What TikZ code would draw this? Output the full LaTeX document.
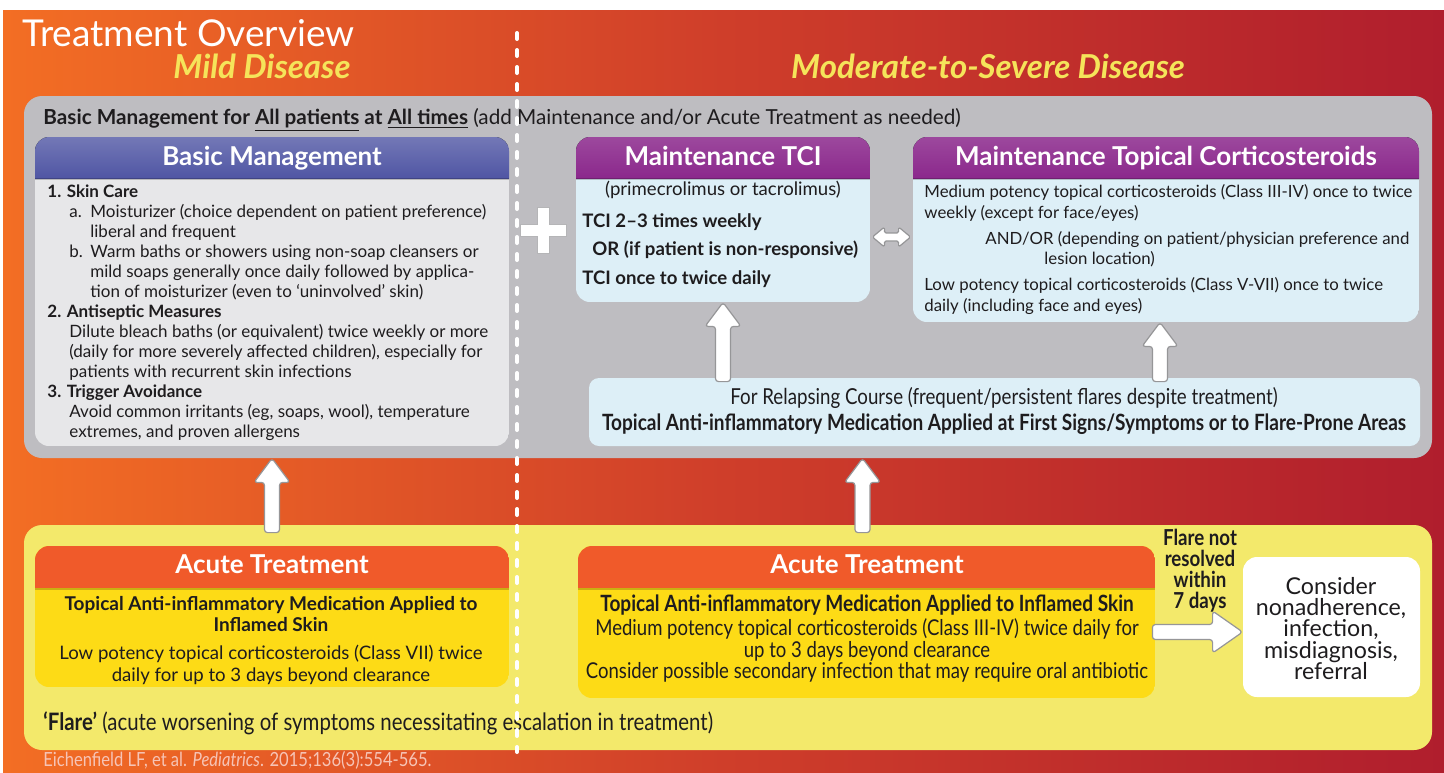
\documentclass[tikz,border=0pt]{standalone}
\usepackage{fontspec}
\setmainfont{Lato}
\newfontfamily\cnd[FakeStretch=0.85]{Lato}
\usetikzlibrary{fit,calc}
\definecolor{gL}{RGB}{243,110,36}
\definecolor{gM}{RGB}{207,62,42}
\definecolor{gR}{RGB}{176,30,45}
\definecolor{panel}{RGB}{190,189,193}
\definecolor{bmbody}{RGB}{231,231,233}
\definecolor{bmhead}{RGB}{80,86,164}
\definecolor{purp}{RGB}{139,40,140}
\definecolor{lblue}{RGB}{221,239,247}
\definecolor{ypanel}{RGB}{243,233,107}
\definecolor{achead}{RGB}{240,90,42}
\definecolor{acbody}{RGB}{253,219,22}
\definecolor{ttl}{RGB}{245,228,90}
\definecolor{ink}{RGB}{30,28,30}
\definecolor{arrline}{RGB}{150,150,152}
\definecolor{cite}{RGB}{246,196,182}
\newcommand\hdrbox[8]{%
  \begin{scope}
    \clip[rounded corners=7pt] (#2,#3) rectangle (#4,#5);
    \fill[#8] (#2,#3) rectangle (#4,#5);
    \fill[#7] (#2,#3) rectangle (#4,#6);
    \fill[black,opacity=0.2] (#2,#6) rectangle (#4,#6+2);
  \end{scope}
  \node[fit={(#2,#3)(#4,#5)},inner sep=0pt] (#1) {};}
\newcommand\uparr[2]{\draw[blockarr] let \p1=#1, \p2=#2 in
  (\x1-3.75pt,\y1) -- (\x1-3.75pt,\y2-12pt) -- (\x1-9pt,\y2-12pt) -- (\x1,\y2) -- (\x1+9pt,\y2-12pt) -- (\x1+3.75pt,\y2-12pt) -- (\x1+3.75pt,\y1) -- cycle;}
\newcommand\rtarr[2]{\draw[blockarr] let \p1=#1, \p2=#2 in
  (\x1,\y1+3.75pt) -- (\x2-15pt,\y1+3.75pt) -- (\x2-15pt,\y1+10.5pt) -- (\x2,\y1) -- (\x2-15pt,\y1-10.5pt) -- (\x2-15pt,\y1-3.75pt) -- (\x1,\y1-3.75pt) -- cycle;}
\begin{document}
\begin{tikzpicture}[x=0.5pt,y=-0.5pt,
  tx/.style={inner sep=0pt, text=ink},
  bmt/.style={tx, font=\fontsize{8.5}{10}\selectfont, anchor=base west},
  mtt/.style={tx, font=\fontsize{8.4}{10}\selectfont, anchor=base west},
  tct/.style={tx, font=\bfseries\fontsize{9.3}{10}\selectfont, anchor=base west},
  alt/.style={tx, font=\fontsize{9.3}{10}\selectfont, anchor=base},
  art/.style={tx, font=\cnd\fontsize{10.9}{11}\selectfont, anchor=base},
  flt/.style={tx, font=\cnd\bfseries\fontsize{11}{11}\selectfont, anchor=base},
  cst/.style={tx, font=\fontsize{11.6}{12}\selectfont, anchor=base},
  hdr/.style={inner sep=0pt, text=white, font=\bfseries\fontsize{13}{14}\selectfont, anchor=base},
  blockarr/.style={fill=white, draw=arrline, line width=0.6pt, line join=round, rounded corners=1.5pt},
]
\useasboundingbox (0,0) rectangle (1444,772);
\fill[white] (0,0) rectangle (1444,772);
\shade[left color=gL, right color=gR, middle color=gM] (3,10) rectangle (1444,772);

% titles
\node[tx, text=white, font=\fontsize{18.5}{20}\selectfont, anchor=base west] (title) at (22,46) {Treatment Overview};
\node[tx, text=ttl, font=\bfseries\itshape\fontsize{16.5}{17}\selectfont, anchor=base] (mild) at (262,78) {Mild Disease};
\node[tx, text=ttl, font=\bfseries\itshape\fontsize{16.5}{17}\selectfont, anchor=base] (modsev) at (988,78) {Moderate-to-Severe Disease};

% grey panel
\node[fit={(24,96)(1432,458)}, inner sep=0pt, fill=panel, rounded corners=9pt] (gpanel) {};
\node[tx, font=\fontsize{10.35}{12}\selectfont, anchor=base west] (bmall) at (43,124)
  {\textbf{Basic Management for \underline{All patients} at \underline{All times}} (add Maintenance and/or Acute Treatment as needed)};

% basic management
\hdrbox{bm}{35}{137}{509}{446}{178}{top color=bmhead!80!white, bottom color=bmhead}{bmbody}
\node[hdr] (bmT) at (272,165) {Basic Management};
\node[bmt] (bm1) at (47,197) {\textbf{1. Skin Care}};
\node[bmt] (bm2) at (69,217) {\makebox[10.5pt][l]{a.}Moisturizer (choice dependent on patient preference)};
\node[bmt] (bm3) at (90,237) {liberal and frequent};
\node[bmt] (bm4) at (69,257) {\makebox[10.5pt][l]{b.}Warm baths or showers using non-soap cleansers or};
\node[bmt] (bm5) at (90,277) {mild soaps generally once daily followed by applica-};
\node[bmt] (bm6) at (90,297) {tion of moisturizer (even to ‘uninvolved’ skin)};
\node[bmt] (bm7) at (47,317) {\textbf{2. Antiseptic Measures}};
\node[bmt] (bm8) at (69,337) {Dilute bleach baths (or equivalent) twice weekly or more};
\node[bmt] (bm9) at (69,357) {(daily for more severely affected children), especially for};
\node[bmt] (bm10) at (69,377) {patients with recurrent skin infections};
\node[bmt] (bm11) at (47,397) {\textbf{3. Trigger Avoidance}};
\node[bmt] (bm12) at (69,417) {Avoid common irritants (eg, soaps, wool), temperature};
\node[bmt] (bm13) at (69,437) {extremes, and proven allergens};

% plus
\draw[fill=white, draw=arrline!70, line width=0.4pt] (537,207) -- (549,207) -- (549,224) -- (566,224) -- (566,236) -- (549,236) -- (549,253) -- (537,253) -- (537,236) -- (520,236) -- (520,224) -- (537,224) -- cycle;

% maintenance TCI
\hdrbox{tci}{576}{137}{870}{302}{178}{top color=purp!85!white, bottom color=purp}{lblue}
\node[hdr] (tciT) at (723,165) {Maintenance TCI};
\node[alt] (tc1) at (723,195) {(primecrolimus or tacrolimus)};
\node[tct] (tc2) at (582,227) {TCI 2–3 times weekly};
\node[tct] (tc3) at (592,255) {OR (if patient is non-responsive)};
\node[tct] (tc4) at (582,284) {TCI once to twice daily};

% maintenance corticosteroids
\hdrbox{mtc}{913}{137}{1419}{322}{178}{top color=purp!85!white, bottom color=purp}{lblue}
\node[hdr] (mtcT) at (1166,165) {Maintenance Topical Corticosteroids};
\node[mtt] (mt1) at (924,197) {Medium potency topical corticosteroids (Class III-IV) once to twice};
\node[mtt] (mt2) at (924,218) {weekly (except for face/eyes)};
\node[mtt] (mt3) at (985,244) {AND/OR (depending on patient/physician preference and};
\node[mtt] (mt4) at (1044,264) {lesion location)};
\node[mtt] (mt5) at (924,290) {Low potency topical corticosteroids (Class V-VII) once to twice};
\node[mtt] (mt6) at (924,311) {daily (including face and eyes)};

% double arrow
\coordinate (da1) at ($(tci.east |- 0,237)+(2,0)$);
\coordinate (da2) at ($(mtc.west |- 0,237)+(-2,0)$);
\draw[blockarr, rounded corners=0.8pt] let \p1=(da1), \p2=(da2) in
  (\x1,\y1) -- (\x1+6pt,\y1+5pt) -- (\x1+6pt,\y1+2pt) -- (\x2-6pt,\y1+2pt) -- (\x2-6pt,\y1+5pt) -- (\x2,\y1)
  -- (\x2-6pt,\y1-5pt) -- (\x2-6pt,\y1-2pt) -- (\x1+6pt,\y1-2pt) -- (\x1+6pt,\y1-5pt) -- cycle;

% relapsing
\node[fit={(589,378)(1420,446)}, inner sep=0pt, fill=lblue, rounded corners=5pt] (rel) {};
\node[tx, font=\cnd\fontsize{11}{12}\selectfont, anchor=base] (rl1) at (1004,404) {For Relapsing Course (frequent/persistent flares despite treatment)};
\node[tx, font=\cnd\bfseries\fontsize{11.2}{12}\selectfont, anchor=base] (rl2) at (1004,430) {Topical Anti-inflammatory Medication Applied at First Signs/Symptoms or to Flare-Prone Areas};

\coordinate (u1b) at ($(tci.south |- rel.north)+(0,4)$);
\uparr{(u1b)}{(tci.south)}
\coordinate (u2t) at ($(mtc.south)+(-6,0)$);
\coordinate (u2b) at ($(u2t |- rel.north)+(0,4)$);
\uparr{(u2b)}{(u2t)}

% yellow panel
\node[fit={(24,525)(1432,750)}, inner sep=0pt, fill=ypanel, rounded corners=9pt] (ypan) {};

% acute left
\hdrbox{acL}{35}{546}{509}{687}{588}{achead}{acbody}
\node[hdr] (acLT) at (272,573) {Acute Treatment};
\node[alt, font=\bfseries\fontsize{9.5}{10}\selectfont] (al1) at (271,610) {Topical Anti-inflammatory Medication Applied to};
\node[alt, font=\bfseries\fontsize{9.5}{10}\selectfont] (al2) at (271,631) {Inflamed Skin};
\node[alt] (al3) at (271,659) {Low potency topical corticosteroids (Class VII) twice};
\node[alt] (al4) at (271,681) {daily for up to 3 days beyond clearance};

% acute right
\hdrbox{acR}{578}{546}{1155}{698}{588}{achead}{acbody}
\node[hdr] (acRT) at (867,573) {Acute Treatment};
\node[art, font=\cnd\bfseries\fontsize{11.2}{11}\selectfont] (ar1) at (867,611) {Topical Anti-inflammatory Medication Applied to Inflamed Skin};
\node[art] (ar2) at (867,635) {Medium potency topical corticosteroids (Class III-IV) twice daily for};
\node[art] (ar3) at (867,657) {up to 3 days beyond clearance};
\node[art] (ar4) at (867,678) {Consider possible secondary infection that may require oral antibiotic};

% consider box
\node[fit={(1243,557)(1420,697)}, inner sep=0pt, fill=white, rounded corners=7pt] (cons) {};
\node[cst] (cs1) at (1331,594) {Consider};
\node[cst] (cs2) at (1331,615) {nonadherence,};
\node[cst] (cs3) at (1331,636) {infection,};
\node[cst] (cs4) at (1331,658) {misdiagnosis,};
\node[cst] (cs5) at (1331,679) {referral};

\node[flt] (fl1) at (1200,545) {Flare not};
\node[flt] (fl2) at (1200,566) {resolved};
\node[flt] (fl3) at (1200,587) {within};
\node[flt] (fl4) at (1200,608) {7 days};

\coordinate (r1) at ($(acR.east |- 0,632)+(-3,0)$);
\coordinate (r2) at (cons.west |- 0,632);
\rtarr{(r1)}{(r2)}

% vertical arrows to grey panel
\coordinate (v1b) at ($(acL.north)+(0,-13)$);
\coordinate (v1t) at (acL.north |- gpanel.south);
\uparr{(v1b)}{(v1t)}
\coordinate (v2b) at ($(acR.north)+(-4,-13)$);
\coordinate (v2t) at (v2b |- gpanel.south);
\uparr{(v2b)}{(v2t)}

% footer
\node[tx, font=\cnd\fontsize{12}{12}\selectfont, anchor=base west] (flare) at (43,730)
  {\textbf{‘Flare’} (acute worsening of symptoms necessitating escalation in treatment)};
\node[tx, text=cite, font=\cnd\fontsize{9.75}{10}\selectfont, anchor=base west] (cit) at (43,766)
  {Eichenfield LF, et al. \textit{Pediatrics}. 2015;136(3):554-565.};

% divider
\coordinate (dv1) at (517,33);
\coordinate (dv2) at (517,752);
\draw[white, line width=2pt, dash pattern=on 3pt off 5.5pt, line cap=round] (dv1) -- (dv2);
\end{tikzpicture}
\end{document}
